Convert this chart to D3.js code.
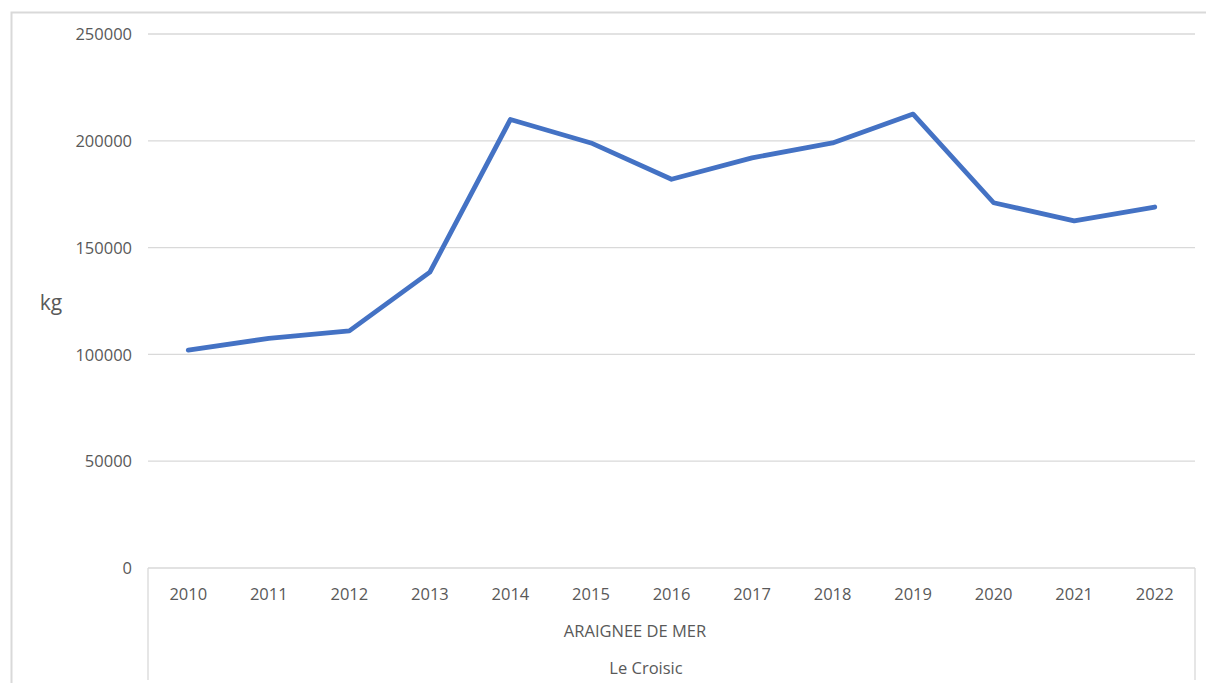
<!DOCTYPE html>
<html><head><meta charset="utf-8">
<script src="https://cdn.jsdelivr.net/npm/d3@7"></script>
<style>body{margin:0;background:#fff}svg{display:block}text{font-family:"Open Sans","Noto Sans",sans-serif;fill:#595959}</style>
</head><body><svg id="c" width="1206" height="683"></svg>
<script>
const years = ["2010","2011","2012","2013","2014","2015","2016","2017","2018","2019","2020","2021","2022"];
const values = [102000,107500,111000,138500,210000,199000,182000,192000,199000,212500,171000,162500,169000];
const yTicks = [0,50000,100000,150000,200000,250000];
const groupLabel = "ARAIGNEE DE MER";
const outerLabel = "Le Croisic";
const yTitle = "kg";

const svg = d3.select("#c");
const L=148,R=1195,T=34,B=568;
const FS=16.5;
// frame
svg.append("path").attr("d","M11.5,683 V12.5 H1206").attr("fill","none").attr("stroke","#d9d9d9").attr("stroke-width",2);

const x = d3.scaleBand().domain(years).range([L,R]);
const y = d3.scaleLinear().domain([0,250000]).range([B,T]);

// gridlines
svg.append("g").selectAll("line").data(yTicks.filter(d=>d>0)).join("line")
  .attr("x1",L).attr("x2",R).attr("y1",d=>y(d)).attr("y2",d=>y(d))
  .attr("stroke","#d9d9d9").attr("stroke-width",1.3);

// y axis labels
const ya = svg.append("g").attr("transform",`translate(${L-13},0)`)
  .call(d3.axisLeft(y).tickValues(yTicks).tickSize(0).tickFormat(d3.format("d")));
ya.select(".domain").remove();
ya.selectAll("text").attr("font-size",FS).attr("fill","#595959").attr("font-family",null).attr("dy","0.35em");

// x axis line and verticals
svg.append("line").attr("x1",L).attr("x2",R).attr("y1",B).attr("y2",B).attr("stroke","#d9d9d9").attr("stroke-width",1.3);
svg.append("g").selectAll("line").data([L,R]).join("line")
  .attr("x1",d=>d).attr("x2",d=>d).attr("y1",B).attr("y2",680).attr("stroke","#d9d9d9").attr("stroke-width",1.3);

const xa = svg.append("g").attr("transform",`translate(0,${B})`)
  .call(d3.axisBottom(x).tickSize(0).tickPadding(0));
xa.select(".domain").remove();
xa.selectAll("text").attr("font-size",FS).attr("fill","#595959").attr("font-family",null).attr("y",26).attr("dy","0.35em");

svg.append("text").attr("x",635).attr("y",631).attr("dy","0.35em").attr("text-anchor","middle").attr("font-size",FS).text(groupLabel);
svg.append("text").attr("x",646).attr("y",668).attr("dy","0.35em").attr("text-anchor","middle").attr("font-size",FS).text(outerLabel);
svg.append("text").attr("x",51).attr("y",303).attr("dy","0.35em").attr("text-anchor","middle").attr("font-size",21).text(yTitle);

// line
const line = d3.line().x((d,i)=>x(years[i])+x.bandwidth()/2).y(d=>y(d));
svg.append("path").datum(values).attr("d",line).attr("fill","none")
  .attr("stroke","#4472c4").attr("stroke-width",4.8).attr("stroke-linejoin","round").attr("stroke-linecap","round");
</script></body></html>
